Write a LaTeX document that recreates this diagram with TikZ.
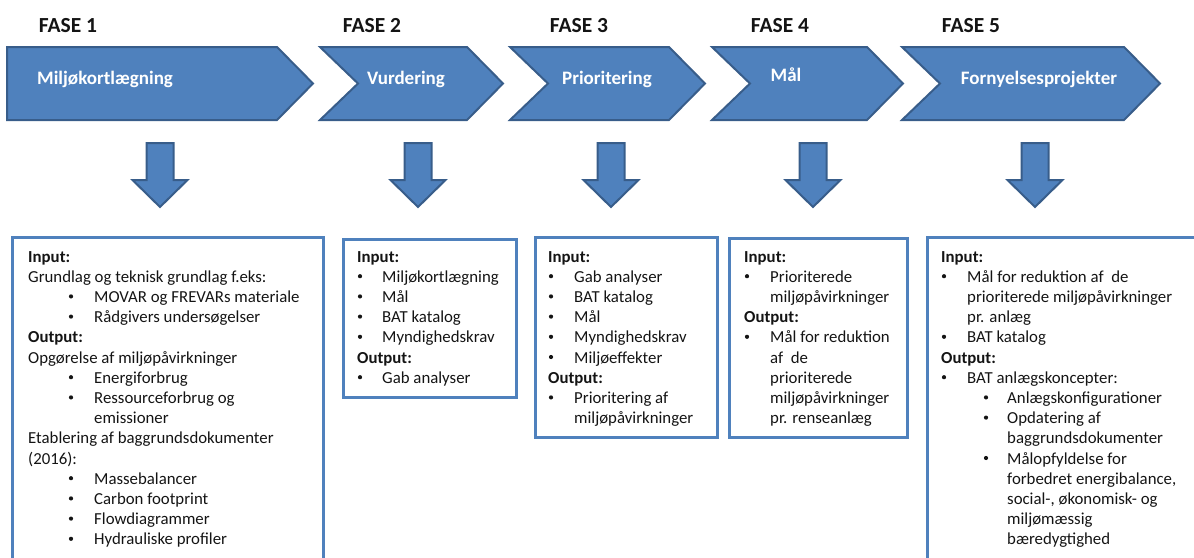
\documentclass[tikz,border=0pt]{standalone}
\usepackage{fontspec}
\setmainfont{Carlito}
\definecolor{cfill}{RGB}{79,129,189}
\definecolor{cedge}{RGB}{56,93,138}
\definecolor{ink}{RGB}{20,20,20}
\tikzset{
  x=1pt, y=-1pt,
  chev/.style={fill=cfill, draw=cedge, line width=2pt, line join=miter},
  darrow/.style={fill=cfill, draw=cedge, line width=2pt, line join=miter},
  panel/.style={draw=cfill, line width=3pt},
  fase/.style={font=\fontsize{21.5}{25}\selectfont\bfseries, anchor=base, inner sep=0pt, text=ink},
  ctext/.style={font=\fontsize{19}{23}\selectfont\bfseries, text=white, anchor=base, inner sep=0pt},
  txt/.style={font=\fontsize{16.8}{20}\selectfont, anchor=base west, inner sep=0pt, text=ink},
  btxt/.style={font=\fontsize{16.8}{20}\selectfont\bfseries, anchor=base west, inner sep=0pt, text=ink},
  dot/.style={circle, fill=ink, inner sep=0pt, minimum size=4.2pt},
}
\newcommand\TL[4]{\node[txt] (#1) at (#2,{262+20.2*(#3)}) {#4};}
\newcommand\HL[4]{\node[btxt] (#1) at (#2,{262+20.2*(#3)}) {#4};}
\newcommand\BU[5]{\node[dot] (#1b) at (#2,{256+20.2*(#4)}) {};\node[txt] (#1) at (#3,{262+20.2*(#4)}) {#5};}
\newcommand\DArrow[1]{\draw[darrow] ({#1-13.5},143) -- ({#1+13.5},143) -- ({#1+13.5},180) -- ({#1+27.5},180) -- (#1,207) -- ({#1-27.5},180) -- ({#1-13.5},180) -- cycle;}
\newcommand\Chev[2]{\draw[chev] (#1,47) -- ({#2-36},47) -- (#2,83.5) -- ({#2-36},120) -- (#1,120) -- ({#1+38},83.5) -- cycle;}
\begin{document}
\begin{tikzpicture}
\useasboundingbox (0,0) rectangle (1194,557);
\clip (0,0) rectangle (1194,557);
% phase titles
\node[fase] (f1) at (68,32) {FASE 1};
\node[fase] (f2) at (372,32) {FASE 2};
\node[fase] (f3) at (579,32) {FASE 3};
\node[fase] (f4) at (780,32) {FASE 4};
\node[fase] (f5) at (971,32) {FASE 5};
% chevrons
\draw[chev] (7,47) -- (277,47) -- (313,83.5) -- (277,120) -- (7,120) -- cycle;
\Chev{320}{503}
\Chev{510}{705}
\Chev{712}{903}
\Chev{902}{1160}
\node[ctext, anchor=base west] (c1) at (37,84) {Miljøkortlægning};
\node[ctext] (c2) at (406,84) {Vurdering};
\node[ctext] (c3) at (607,84) {Prioritering};
\node[ctext] (c4) at (786,81) {Mål};
\node[ctext] (c5) at (1039,84) {Fornyelsesprojekter};
% down arrows
\DArrow{160}
\DArrow{418}
\DArrow{611}
\DArrow{813}
\DArrow{1035}
% panels
\draw[panel] (12,237) rectangle (323,580);
\draw[panel] (343,239) rectangle (516,397);
\draw[panel] (535,237) rectangle (717,437);
\draw[panel] (729,238) rectangle (907,437);
\draw[panel] (927,237) rectangle (1220,580);
% box 1
\HL{a0}{28}{0}{Input:}
\TL{a1}{28}{1}{Grundlag og teknisk grundlag f.eks:}
\BU{a2}{71}{94}{2}{MOVAR og FREVARs materiale}
\BU{a3}{71}{94}{3}{Rådgivers undersøgelser}
\HL{a4}{28}{4}{Output:}
\TL{a5}{28}{5}{Opgørelse af miljøpåvirkninger}
\BU{a6}{71}{94}{6}{Energiforbrug}
\BU{a7}{71}{94}{7}{Ressourceforbrug og}
\TL{a8}{94}{8}{emissioner}
\TL{a9}{28}{9}{Etablering af baggrundsdokumenter}
\TL{a10}{28}{10}{(2016):}
\BU{a11}{71}{94}{11}{Massebalancer}
\BU{a12}{71}{94}{12}{Carbon footprint}
\BU{a13}{71}{94}{13}{Flowdiagrammer}
\BU{a14}{71}{94}{14}{Hydrauliske profiler}
% box 2
\HL{b0}{357}{0}{Input:}
\BU{b1}{360}{382}{1}{Miljøkortlægning}
\BU{b2}{360}{382}{2}{Mål}
\BU{b3}{360}{382}{3}{BAT katalog}
\BU{b4}{360}{382}{4}{Myndighedskrav}
\HL{b5}{357}{5}{Output:}
\BU{b6}{360}{382}{6}{Gab analyser}
% box 3
\HL{d0}{548}{0}{Input:}
\BU{d1}{551}{574}{1}{Gab analyser}
\BU{d2}{551}{574}{2}{BAT katalog}
\BU{d3}{551}{574}{3}{Mål}
\BU{d4}{551}{574}{4}{Myndighedskrav}
\BU{d5}{551}{574}{5}{Miljøeffekter}
\HL{d6}{548}{6}{Output:}
\BU{d7}{551}{574}{7}{Prioritering af}
\TL{d8}{574}{8}{miljøpåvirkninger}
% box 4
\HL{e0}{744}{0}{Input:}
\BU{e1}{747}{770}{1}{Prioriterede}
\TL{e2}{770}{2}{miljøpåvirkninger}
\HL{e3}{744}{3}{Output:}
\BU{e4}{747}{770}{4}{Mål for reduktion}
\TL{e5}{770}{5}{af~ de}
\TL{e6}{770}{6}{prioriterede}
\TL{e7}{770}{7}{miljøpåvirkninger}
\TL{e8}{770}{8}{pr. renseanlæg}
% box 5
\HL{g0}{941}{0}{Input:}
\BU{g1}{944}{967}{1}{Mål for reduktion af~ de}
\TL{g2}{967}{2}{prioriterede miljøpåvirkninger}
\TL{g3}{967}{3}{pr. anlæg}
\BU{g4}{944}{967}{4}{BAT katalog}
\HL{g5}{941}{5}{Output:}
\BU{g6}{944}{967}{6}{BAT anlægskoncepter:}
\BU{g7}{986}{1007}{7}{Anlægskonfigurationer}
\BU{g8}{986}{1007}{8}{Opdatering af}
\TL{g9}{1007}{9}{baggrundsdokumenter}
\BU{g10}{986}{1007}{10}{Målopfyldelse for}
\TL{g11}{1007}{11}{forbedret energibalance,}
\TL{g12}{1007}{12}{social-, økonomisk- og}
\TL{g13}{1007}{13}{miljømæssig}
\TL{g14}{1007}{14}{bæredygtighed}
\end{tikzpicture}
\end{document}
